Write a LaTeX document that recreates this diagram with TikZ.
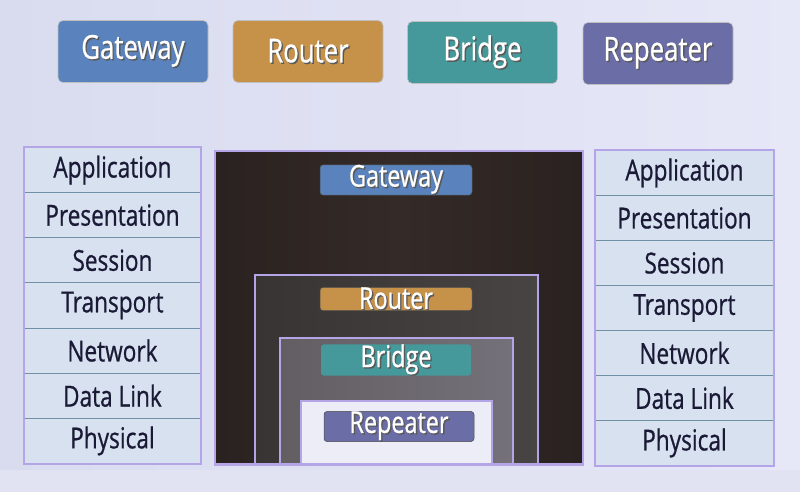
\documentclass[tikz,border=0pt]{standalone}
\usepackage{fontspec}
\setmainfont{Open Sans}[FakeStretch=0.78, FakeBold=0.7]
\definecolor{bgA}{HTML}{D9DBEF}
\definecolor{bgB}{HTML}{E6E8F8}
\definecolor{gwcol}{HTML}{5A82BC}
\definecolor{rtcol}{HTML}{C6924A}
\definecolor{brcol}{HTML}{46999A}
\definecolor{rpcol}{HTML}{6B6DA7}
\definecolor{lav}{HTML}{B4A6E6}
\definecolor{rowfill}{HTML}{D8E1EF}
\definecolor{rowline}{HTML}{7190A8}
\definecolor{txt}{HTML}{1A1A36}
\definecolor{darkA}{HTML}{2A2220}
\definecolor{darkB}{HTML}{342B28}
\definecolor{midA}{HTML}{383434}
\definecolor{midB}{HTML}{484444}
\definecolor{grayA}{HTML}{625E62}
\definecolor{grayB}{HTML}{75717A}
\definecolor{whitebox}{HTML}{EDEDF7}
\newcommand\shtext[1]{\rlap{\hspace{1.4pt}\raisebox{-1.4pt}{\textcolor{black!65}{#1}}}#1}
\tikzset{
  topbox/.style={rounded corners=5pt, minimum width=150pt, minimum height=62pt,
    inner sep=0pt, text=white, font=\fontsize{33}{34}\selectfont, draw=black!25, line width=0.6pt},
  layer/.style={rectangle, fill=rowfill, draw=rowline, line width=0.9pt, inner sep=0pt,
    text=txt, font=\fontsize{29}{30}\selectfont},
  frame/.style={draw=lav, line width=2pt},
  lbl/.style={rounded corners=3pt, minimum width=150pt, minimum height=25pt, inner sep=0pt,
    text=white, font=\fontsize{30}{30}\selectfont, draw=black!70, line width=0.5pt},
}
\begin{document}
\begin{tikzpicture}[x=1pt,y=-1pt]
\useasboundingbox (0,0) rectangle (800,492);
\shade[left color=bgA, right color=bgB] (0,0) rectangle (800,492);
\fill[bgA!80!white] (0,470) rectangle (800,492);

% top legend boxes
\node[topbox, fill=gwcol] (tg) at (133,51.5) {\shtext{Gateway}};
\node[topbox, fill=rtcol] (tr) at (308,51.5) {\shtext{Router}};
\node[topbox, fill=brcol] (tb) at (482.5,52.5) {\shtext{Bridge}};
\node[topbox, fill=rpcol] (tp) at (658,53.5) {\shtext{Repeater}};

% left stack
\foreach \t [count=\i] in {Application,Presentation,Session,Transport,Network,Data Link,Physical}{
  \node[layer, minimum width=176pt, minimum height=45.14pt, anchor=north west]
    (L\i) at (24,{147+45.14*(\i-1)}) {\t};
}
\draw[frame] (L1.north west) rectangle (L7.south east);

% right stack
\foreach \t [count=\i] in {Application,Presentation,Session,Transport,Network,Data Link,Physical}{
  \node[layer, minimum width=178pt, minimum height=45pt, anchor=north west]
    (R\i) at (595,{150+45*(\i-1)}) {\t};
}
\draw[frame] (R1.north west) rectangle (R7.south east);

% nested boxes
\node[frame, left color=darkA, right color=darkA, middle color=darkB, minimum width=368pt, minimum height=313pt,
  anchor=north west, inner sep=0pt] (gbox) at (214,150) {};
\node[frame, left color=midA, right color=midB, minimum width=283pt, minimum height=189pt,
  anchor=north west, inner sep=0pt] (rbox) at (254,274) {};
\node[frame, left color=grayA, right color=grayB, minimum width=233pt, minimum height=126pt,
  anchor=north west, inner sep=0pt] (bbox) at (279,337) {};
\node[frame, fill=whitebox, minimum width=191pt, minimum height=63pt,
  anchor=north west, inner sep=0pt] (pbox) at (300,400) {};
\draw[lav, line width=2pt] (gbox.south west) -- (gbox.south east);

\node[lbl, fill=gwcol, minimum width=152pt] (cg) at (396,180) {\shtext{Gateway}};
\node[lbl, fill=rtcol, minimum width=152pt, minimum height=22pt] (cr) at (396,299) {\shtext{Router}};
\node[lbl, fill=brcol, minimum width=150pt, minimum height=24pt, draw=none] (cb) at (396,360) {\shtext{Bridge}};
\node[lbl, fill=rpcol, minimum width=150pt, minimum height=23pt] (cp) at (399,426.5) {\shtext{Repeater}};
\end{tikzpicture}
\end{document}
